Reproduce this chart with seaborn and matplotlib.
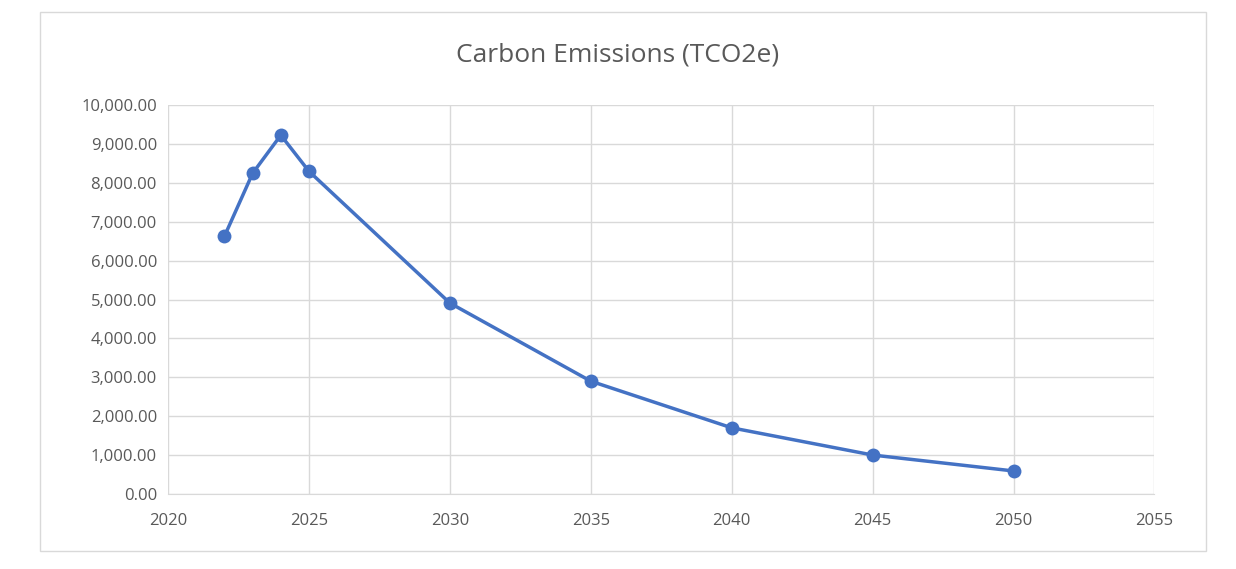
import matplotlib
matplotlib.use("Agg")
import matplotlib.pyplot as plt
import matplotlib.ticker as mticker
import seaborn as sns
import pandas as pd
from matplotlib.patches import Rectangle

years = [2022, 2023, 2024, 2025, 2030, 2035, 2040, 2045, 2050]
emissions = [6630, 8250, 9230, 8300, 4910, 2900, 1700, 1000, 590]

sns.set_style("white")
plt.rcParams['font.family'] = ['Open Sans', 'DejaVu Sans']

df = pd.DataFrame({"year": years, "tco2e": emissions})

fig = plt.figure(figsize=(12.36, 5.69), dpi=100)
ax = fig.add_axes([0.136, 0.132, 0.798, 0.683])
fig.patches.append(Rectangle((40/1236, 1-551/569), 1166/1236, 539/569,
                             transform=fig.transFigure, fill=False,
                             edgecolor="#d9d9d9", linewidth=1))

sns.lineplot(data=df, x="year", y="tco2e", ax=ax, color="#4472c4",
             linewidth=2.5, marker="o", markersize=10, markeredgewidth=0)

ax.set_xlim(2020, 2055)
ax.set_ylim(0, 10000)
ax.xaxis.set_major_locator(mticker.MultipleLocator(5))
ax.yaxis.set_major_locator(mticker.MultipleLocator(1000))
ax.yaxis.set_major_formatter(mticker.FuncFormatter(lambda v, p: f"{v:,.2f}"))
ax.grid(True, color="#d9d9d9", linewidth=1)
for s in ["top", "right", "left"]:
    ax.spines[s].set_visible(False)
ax.spines["bottom"].set_color("#d9d9d9")
ax.tick_params(axis="both", length=0, labelsize=12, colors="#595959")
ax.tick_params(axis="x", pad=14)
ax.tick_params(axis="y", pad=8)
ax.set_xlabel("")
ax.set_ylabel("")
fig.text(0.5, 1-55/569, "Carbon Emissions (TCO2e)", ha="center", va="center",
         fontsize=19, color="#595959")

fig.savefig("out.png", dpi=100)
